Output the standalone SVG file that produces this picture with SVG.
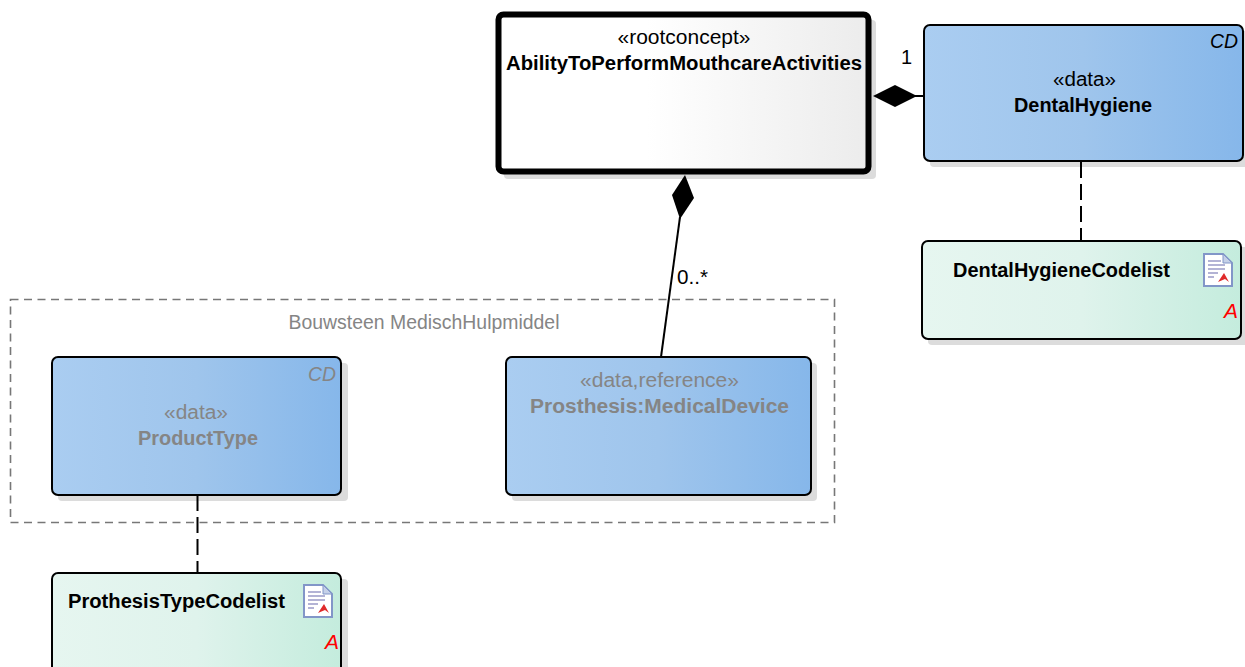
<svg xmlns="http://www.w3.org/2000/svg" width="1245" height="667" viewBox="0 0 1245 667">
<defs>
<linearGradient id="blue" x1="0" x2="1" y1="0" y2="0"><stop offset="0" stop-color="#aacdf1"/><stop offset="0.5" stop-color="#9fc5ec"/><stop offset="1" stop-color="#86b7ea"/></linearGradient>
<linearGradient id="green" x1="0" x2="1" y1="0" y2="0"><stop offset="0" stop-color="#e6f6f0"/><stop offset="0.5" stop-color="#dff3ec"/><stop offset="1" stop-color="#c4ecdd"/></linearGradient>
<linearGradient id="white" x1="0" x2="1" y1="0" y2="0"><stop offset="0" stop-color="#ffffff"/><stop offset="0.4" stop-color="#ffffff"/><stop offset="1" stop-color="#ececec"/></linearGradient>
<g id="doc">
<path d="M0 0H19L28 9V32H0Z" fill="#fff" stroke="#8296c8" stroke-width="2"/>
<path d="M19 0V9H28Z" fill="#c5d0e8" stroke="#8296c8" stroke-width="1"/>
<path d="M4 7H17M4 11H21M4 15H21M4 19H14M4 23H10" stroke="#9a9ac8" stroke-width="1.5" fill="none"/>
<path d="M14 28L20 19L25 28L21 25Z" fill="#e02b2b"/>
</g>
</defs>
<style>
text{font-family:"Liberation Sans",Arial,sans-serif;font-size:20px;fill:#000}
.c{text-anchor:middle}
.b{font-weight:bold}
.g{fill:#858585}
.s{fill:#dcdcdc}
.n{stroke:#000;stroke-width:2}
.i{font-style:italic}
.a{fill:#f00;font-size:21px}
.dash{fill:none;stroke:#000;stroke-width:2;stroke-dasharray:16 6}
</style>
<rect x="10.500" y="299.500" width="824" height="223" fill="none" stroke="#777" stroke-width="1.600" stroke-dasharray="8 5.500"/>
<text class="c g" x="424" y="329" textLength="271" lengthAdjust="spacingAndGlyphs">Bouwsteen MedischHulpmiddel</text>
<g id="root">
<rect class="s" x="504" y="20" width="372" height="159" rx="4"/>
<rect x="498.500" y="14.500" width="370" height="157" rx="5" fill="url(#white)" stroke="#000" stroke-width="6"/>
<text class="c" x="684" y="44" textLength="133" lengthAdjust="spacingAndGlyphs">«rootconcept»</text>
<text class="c b" x="684" y="70" textLength="356" lengthAdjust="spacingAndGlyphs">AbilityToPerformMouthcareActivities</text>
</g>
<g id="dentalhygiene">
<rect class="s" x="930" y="31" width="320" height="136" rx="4"/>
<rect class="n" x="924" y="25" width="319" height="136" rx="6" fill="url(#blue)"/>
<text class="i" x="1210" y="48" textLength="28" lengthAdjust="spacingAndGlyphs">CD</text>
<text class="c" x="1084.500" y="86" textLength="63" lengthAdjust="spacingAndGlyphs">«data»</text>
<text class="c b" x="1083" y="112" textLength="138" lengthAdjust="spacingAndGlyphs">DentalHygiene</text>
</g>
<g id="dentalhygienecodelist">
<rect class="s" x="928" y="247" width="320" height="98" rx="4"/>
<rect class="n" x="922" y="241" width="319" height="98" rx="6" fill="url(#green)"/>
<text class="b" x="953" y="277" textLength="217" lengthAdjust="spacingAndGlyphs">DentalHygieneCodelist</text>
<use href="#doc" x="1204" y="254"/>
<text class="i a" x="1224" y="318">A</text>
</g>
<g id="producttype">
<rect class="s" x="58" y="363" width="290" height="138" rx="4"/>
<rect class="n" x="52" y="357" width="289" height="138" rx="6" fill="url(#blue)"/>
<text class="i g" x="308" y="381" textLength="28" lengthAdjust="spacingAndGlyphs">CD</text>
<text class="c g" x="196" y="419" textLength="64" lengthAdjust="spacingAndGlyphs">«data»</text>
<text class="c b g" x="198" y="445" textLength="120" lengthAdjust="spacingAndGlyphs">ProductType</text>
</g>
<g id="prosthesis">
<rect class="s" x="512" y="363" width="305" height="138" rx="4"/>
<rect class="n" x="506" y="357" width="305" height="138" rx="6" fill="url(#blue)"/>
<text class="c g" x="659.500" y="387" textLength="159" lengthAdjust="spacingAndGlyphs">«data,reference»</text>
<text class="c b g" x="659.500" y="413" textLength="259" lengthAdjust="spacingAndGlyphs">Prosthesis:MedicalDevice</text>
</g>
<g id="prothesistypecodelist">
<rect class="s" x="58" y="579" width="290" height="110" rx="4"/>
<rect class="n" x="52" y="573" width="289" height="110" rx="6" fill="url(#green)"/>
<text class="b" x="68" y="608" textLength="217" lengthAdjust="spacingAndGlyphs">ProthesisTypeCodelist</text>
<use href="#doc" x="304" y="585"/>
<text class="i a" x="325" y="649">A</text>
</g>
<g id="connectors">
<path d="M923 96H912" stroke="#000" stroke-width="2" fill="none"/>
<path d="M873 96L895 85L917 96L895 107Z" fill="#000"/>
<path d="M680 217L661 357" stroke="#000" stroke-width="2" fill="none"/>
<path d="M685 175L694 198L680 219L672 195Z" fill="#000"/>
<path class="dash" d="M1081 162V241"/>
<path class="dash" d="M197.500 495V573"/>
<text x="901" y="64">1</text>
<text x="677" y="284" textLength="31" lengthAdjust="spacingAndGlyphs">0..*</text>
</g>
</svg>
